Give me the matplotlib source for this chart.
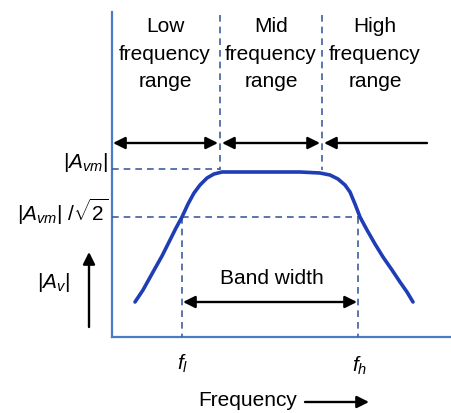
import matplotlib
matplotlib.use('Agg')
import matplotlib.pyplot as plt

plt.rcParams['font.family'] = 'Liberation Sans'
plt.rcParams['mathtext.fontset'] = 'custom'
plt.rcParams['mathtext.rm'] = 'Liberation Sans'
plt.rcParams['mathtext.it'] = 'Liberation Sans:italic'

# response curve (pixel-like coords, y grows downward)
curve_x = [135, 143, 153, 162, 170, 176, 182, 188, 194, 200, 207, 214, 222,
           250, 275, 300, 320, 330, 338, 345, 350, 355, 360, 367, 375, 383, 392, 400, 407, 413]
curve_y = [302, 290, 272, 256, 240, 228, 217, 204, 193, 185, 178, 174, 172,
           172, 172, 172, 173, 175, 179, 185, 192, 204, 217, 230, 244, 257, 270, 282, 292, 302]

# key positions
y_axis_x, x_axis_y, top_y = 112, 337, 12
f_low, f_high = 182, 358
mid_lo, mid_hi = 220, 322
level_max, level_3db = 169, 217
range_arrow_y = 143
bw_arrow_y = 302

range_labels = ['Low\nfrequency\nrange', 'Mid\nfrequency\nrange', 'High\nfrequency\nrange']
range_label_x = [165, 271, 375]

axis_col = '#4a7cc4'
dash_col = '#3e5f9c'
curve_col = '#1f3db5'

fig = plt.figure(figsize=(4.52, 4.13), dpi=100)
ax = fig.add_axes([0, 0, 1, 1])
ax.set_xlim(0, 452)
ax.set_ylim(413, 0)
ax.axis('off')

# axes lines
ax.plot([y_axis_x, y_axis_x], [top_y, x_axis_y], color=axis_col, lw=1.6)
ax.plot([y_axis_x, 452], [x_axis_y, x_axis_y], color=axis_col, lw=1.6)

# dashed guides
dash = dict(color=dash_col, lw=1.2, ls=(0, (4, 3)))
ax.plot([mid_lo, mid_lo], [top_y + 3, level_max + 1], **dash)
ax.plot([mid_hi, mid_hi], [top_y + 3, level_max + 1], **dash)
ax.plot([y_axis_x, mid_lo], [level_max, level_max], **dash)
ax.plot([y_axis_x, f_high], [level_3db, level_3db], **dash)
ax.plot([f_low, f_low], [level_3db, x_axis_y], **dash)
ax.plot([f_high, f_high], [level_3db, x_axis_y], **dash)

# curve
ax.plot(curve_x, curve_y, color=curve_col, lw=2.6, solid_capstyle='round', solid_joinstyle='round')

# range arrows
arr = dict(arrowstyle='<|-|>', color='black', lw=1.7, mutation_scale=18, shrinkA=0, shrinkB=0)
ax.annotate('', xy=(mid_lo - 2, range_arrow_y), xytext=(y_axis_x + 1, range_arrow_y), arrowprops=arr)
ax.annotate('', xy=(mid_hi - 2, range_arrow_y), xytext=(mid_lo + 2, range_arrow_y), arrowprops=arr)
ax.annotate('', xy=(427, range_arrow_y), xytext=(mid_hi + 2, range_arrow_y),
            arrowprops=dict(arr, arrowstyle='<|-'))
ax.annotate('', xy=(f_high - 1, bw_arrow_y), xytext=(f_low + 1, bw_arrow_y), arrowprops=arr)

# up arrow and frequency arrow
one = dict(arrowstyle='-|>', color='black', lw=1.7, mutation_scale=18, shrinkA=0, shrinkB=0)
ax.annotate('', xy=(89, 252), xytext=(89, 327), arrowprops=one)
ax.annotate('', xy=(369, 402), xytext=(305, 402), arrowprops=one)

fs = 15
for lab, x in zip(range_labels, range_label_x):
    ax.text(x, 54, lab, ha='center', va='center', fontsize=fs, linespacing=1.55)

ax.text(108, 162, r'$|A_{vm}|$', ha='right', va='center', fontsize=fs)
ax.text(108, 212, r'$|A_{vm}|\ /\sqrt{2}$', ha='right', va='center', fontsize=fs)
ax.text(70, 282, r'$|A_v|$', ha='right', va='center', fontsize=fs)
ax.text(272, 279, 'Band width', ha='center', va='center', fontsize=fs)
ax.text(f_low + 1, 364, r'$f_l$', ha='center', va='center', fontsize=fs)
ax.text(f_high + 2, 366, r'$f_h$', ha='center', va='center', fontsize=fs)
ax.text(248, 400, 'Frequency', ha='center', va='center', fontsize=fs)

fig.savefig('out.png', dpi=100)
